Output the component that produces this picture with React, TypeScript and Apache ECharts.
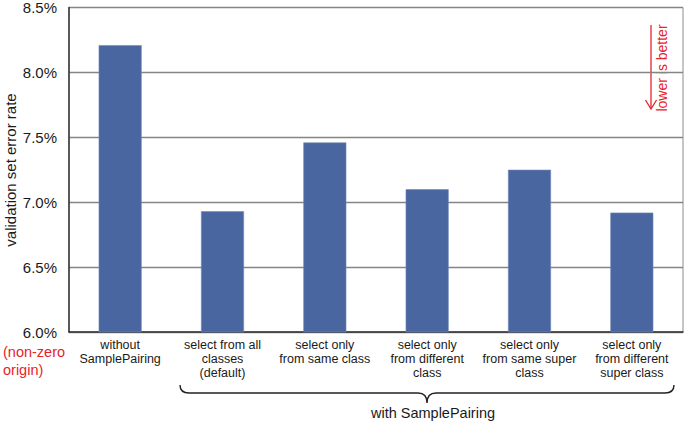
import React, { useEffect, useRef } from "react";
import * as echarts from "echarts";

const categories = [
  "without\nSamplePairing",
  "select from all\nclasses\n(default)",
  "select only\nfrom same class",
  "select only\nfrom different\nclass",
  "select only\nfrom same super\nclass",
  "select only\nfrom different\nsuper class",
];
const errorRates = [8.21, 6.93, 7.46, 7.1, 7.25, 6.92];
const yTicks = { min: 6.0, max: 8.5, interval: 0.5 };

const FONT = "'Liberation Sans', Arial, Helvetica, sans-serif";

let registered = false;
function registerBrace() {
  if (registered) return;
  const d =
    "M180 385 Q180 393 189 393 L418 393 Q427 393 427 403 Q427 393 436 393 L665 393 Q674 393 674 385";
  echarts.graphic.registerShape("brace", echarts.graphic.extendPath(d, {}));
  registered = true;
}

export default function App() {
  const ref = useRef<HTMLDivElement>(null);
  useEffect(() => {
    if (!ref.current) return;
    registerBrace();
    const chart = echarts.init(ref.current, null, { renderer: "svg" });
    chart.setOption({
      animation: false,
      backgroundColor: "#ffffff",
      grid: {
        left: 69,
        right: 2,
        top: 7,
        bottom: 90,
        show: true,
        borderColor: "#8c8c8c",
        borderWidth: 1,
        backgroundColor: "transparent",
      },
      xAxis: {
        type: "category",
        data: categories,
        axisLine: { show: true, lineStyle: { color: "#333", width: 1.5 } },
        axisTick: { show: false },
        axisLabel: {
          interval: 0,
          color: "#1a1a1a",
          fontSize: 12.5,
          lineHeight: 14,
          margin: 6,
          fontFamily: FONT,
        },
      },
      yAxis: {
        type: "value",
        min: yTicks.min,
        max: yTicks.max,
        interval: yTicks.interval,
        axisLine: { show: true, lineStyle: { color: "#333", width: 1.5 } },
        axisTick: { show: false },
        splitLine: { show: true, lineStyle: { color: "#858585", width: 1.3 } },
        axisLabel: {
          color: "#1a1a1a",
          fontSize: 15,
          margin: 12,
          fontFamily: FONT,
          formatter: (v: number) => v.toFixed(1) + "%",
        },
      },
      series: [
        {
          type: "bar",
          data: errorRates,
          barWidth: "42%",
          itemStyle: { color: "#4a66a1", borderColor: "#6f88bb", borderWidth: 0.6 },
        },
      ],
      graphic: [
        {
          type: "text",
          x: 10,
          y: 170,
          rotation: Math.PI / 2,
          style: {
            text: "validation set error rate",
            fill: "#1a1a1a",
            font: "15px " + FONT,
            align: "center",
            verticalAlign: "middle",
          },
        },
        {
          type: "text",
          x: 3,
          y: 352,
          style: {
            text: "(non-zero",
            fill: "#e8232b",
            font: "14.5px " + FONT,
            align: "left",
            verticalAlign: "middle",
          },
        },
        {
          type: "text",
          x: 3,
          y: 370,
          style: {
            text: "origin)",
            fill: "#e8232b",
            font: "14.5px " + FONT,
            align: "left",
            verticalAlign: "middle",
          },
        },
        {
          type: "brace",
          x: 0,
          y: 0,
          style: { fill: "none", stroke: "#222", lineWidth: 1.4 },
        },
        {
          type: "text",
          x: 433,
          y: 413,
          style: {
            text: "with SamplePairing",
            fill: "#1a1a1a",
            font: "14.5px " + FONT,
            align: "center",
            verticalAlign: "middle",
          },
        },
        {
          type: "line",
          shape: { x1: 651, y1: 25, x2: 651, y2: 108 },
          style: { stroke: "#e8232b", lineWidth: 1.3 },
        },
        {
          type: "polyline",
          shape: { points: [[645.5, 100], [651, 109], [656.5, 100]] },
          style: { stroke: "#e8232b", lineWidth: 1.3, fill: "none" },
        },
        {
          type: "text",
          x: 662,
          y: 68,
          rotation: Math.PI / 2,
          style: {
            text: "lower is better",
            fill: "#e8232b",
            font: "14px " + FONT,
            align: "center",
            verticalAlign: "middle",
          },
        },
      ],
    });
    return () => chart.dispose();
  }, []);
  return (
    <div
      ref={ref}
      style={{ position: "fixed", left: 0, top: 0, width: 685, height: 422 }}
    />
  );
}
